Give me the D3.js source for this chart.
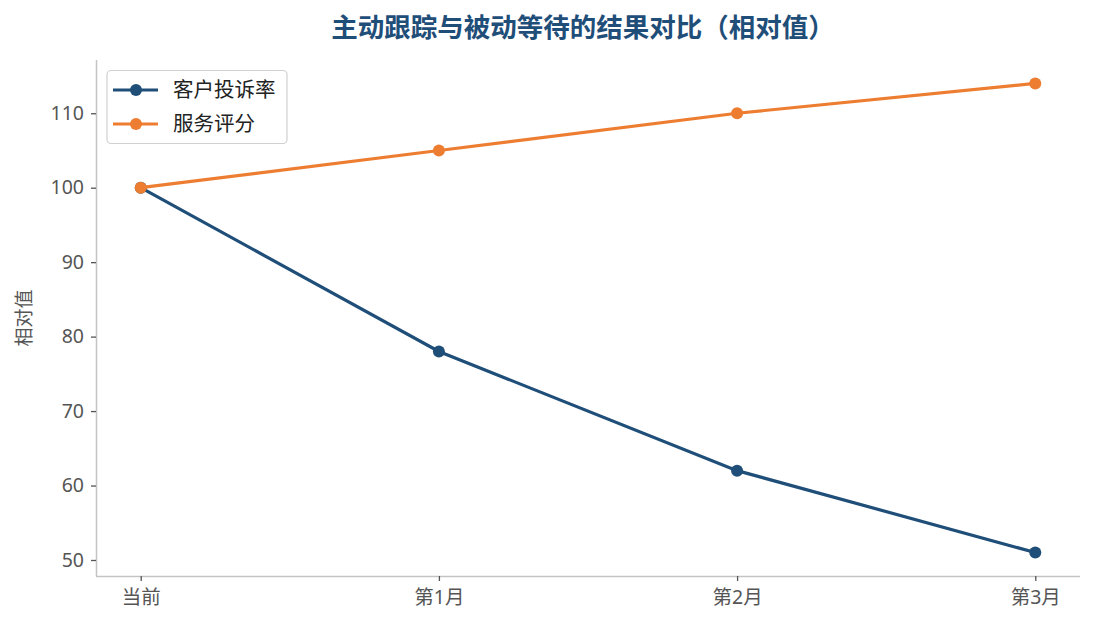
<!DOCTYPE html>
<html><head><meta charset="utf-8">
<script src="https://cdn.jsdelivr.net/npm/d3@7"></script>
<style>
body{margin:0;background:#fff;}
text{font-family:"Noto Sans","Noto Sans CJK SC",sans-serif;}
</style></head>
<body><svg id="c" width="1095" height="629"></svg>
<script>
const categories = ["当前","第1月","第2月","第3月"];
const complaintRate = [100,78,62,51];
const serviceScore = [100,105,110,114];
const yTicks = [50,60,70,80,90,100,110];
const seriesNames = ["客户投诉率","服务评分"];
const colors = ["#1f4e79","#ed7d31"];

const svg = d3.select("#c");
const L=96, R=1080, T=60, B=576;
const x = d3.scaleLinear().domain([-0.15,3.15]).range([L,R]);
const y = d3.scaleLinear().domain([47.85,117.15]).range([B,T]);

svg.append("text").attr("x",583).attr("y",37).attr("text-anchor","middle")
  .attr("font-size",26.5).attr("font-weight","bold").attr("fill","#1f4e79")
  .attr("font-family","'Noto Sans CJK SC',sans-serif")
  .text("主动跟踪与被动等待的结果对比（相对值）");

// axes
const ya = svg.append("g").attr("transform",`translate(${L},0)`)
  .call(d3.axisLeft(y).tickValues(yTicks).tickSize(5).tickPadding(7));
const xa = svg.append("g").attr("transform",`translate(0,${B})`)
  .call(d3.axisBottom(x).tickValues([0,1,2,3]).tickFormat(i=>categories[i]).tickSize(5).tickPadding(9));
[ya,xa].forEach(a=>{
  a.select(".domain").attr("stroke","#c4c4c4").attr("stroke-width",1.5);
  a.selectAll(".tick line").attr("stroke","#555").attr("stroke-width",1.3);
  a.selectAll(".tick text").attr("fill","#555").attr("font-size",19.5)
   .attr("font-family","'Noto Sans','Noto Sans CJK SC',sans-serif");
});
ya.select(".domain").attr("d",`M0.5,${B}V${T}`);
xa.select(".domain").attr("d",`M${L},0.5H${R}`);

svg.append("text").attr("transform",`translate(31,${(T+B)/2}) rotate(-90)`)
  .attr("text-anchor","middle").attr("font-size",19).attr("fill","#555")
  .attr("font-family","'Noto Sans CJK SC',sans-serif").text("相对值");

const series=[complaintRate,serviceScore];
const line=d3.line().x((d,i)=>x(i)).y(d=>y(d));
series.forEach((s,k)=>{
  svg.append("path").datum(s).attr("d",line).attr("fill","none")
    .attr("stroke",colors[k]).attr("stroke-width",3.2);
  svg.selectAll(null).data(s).enter().append("circle")
    .attr("cx",(d,i)=>x(i)).attr("cy",d=>y(d)).attr("r",6).attr("fill",colors[k]);
});

// legend
const lg=svg.append("g");
lg.append("rect").attr("x",107).attr("y",70.5).attr("width",180).attr("height",73)
  .attr("rx",4).attr("fill","#fff").attr("fill-opacity",0.8).attr("stroke","#d0d0d0").attr("stroke-width",1.2);
seriesNames.forEach((n,k)=>{
  const yy=90+k*34;
  lg.append("line").attr("x1",113).attr("x2",158).attr("y1",yy).attr("y2",yy)
    .attr("stroke",colors[k]).attr("stroke-width",3.2);
  lg.append("circle").attr("cx",136).attr("cy",yy).attr("r",6).attr("fill",colors[k]);
  lg.append("text").attr("x",173).attr("y",yy+7).attr("font-size",20.5).attr("fill","#222")
    .attr("font-family","'Noto Sans CJK SC',sans-serif").text(n);
});
</script></body></html>
